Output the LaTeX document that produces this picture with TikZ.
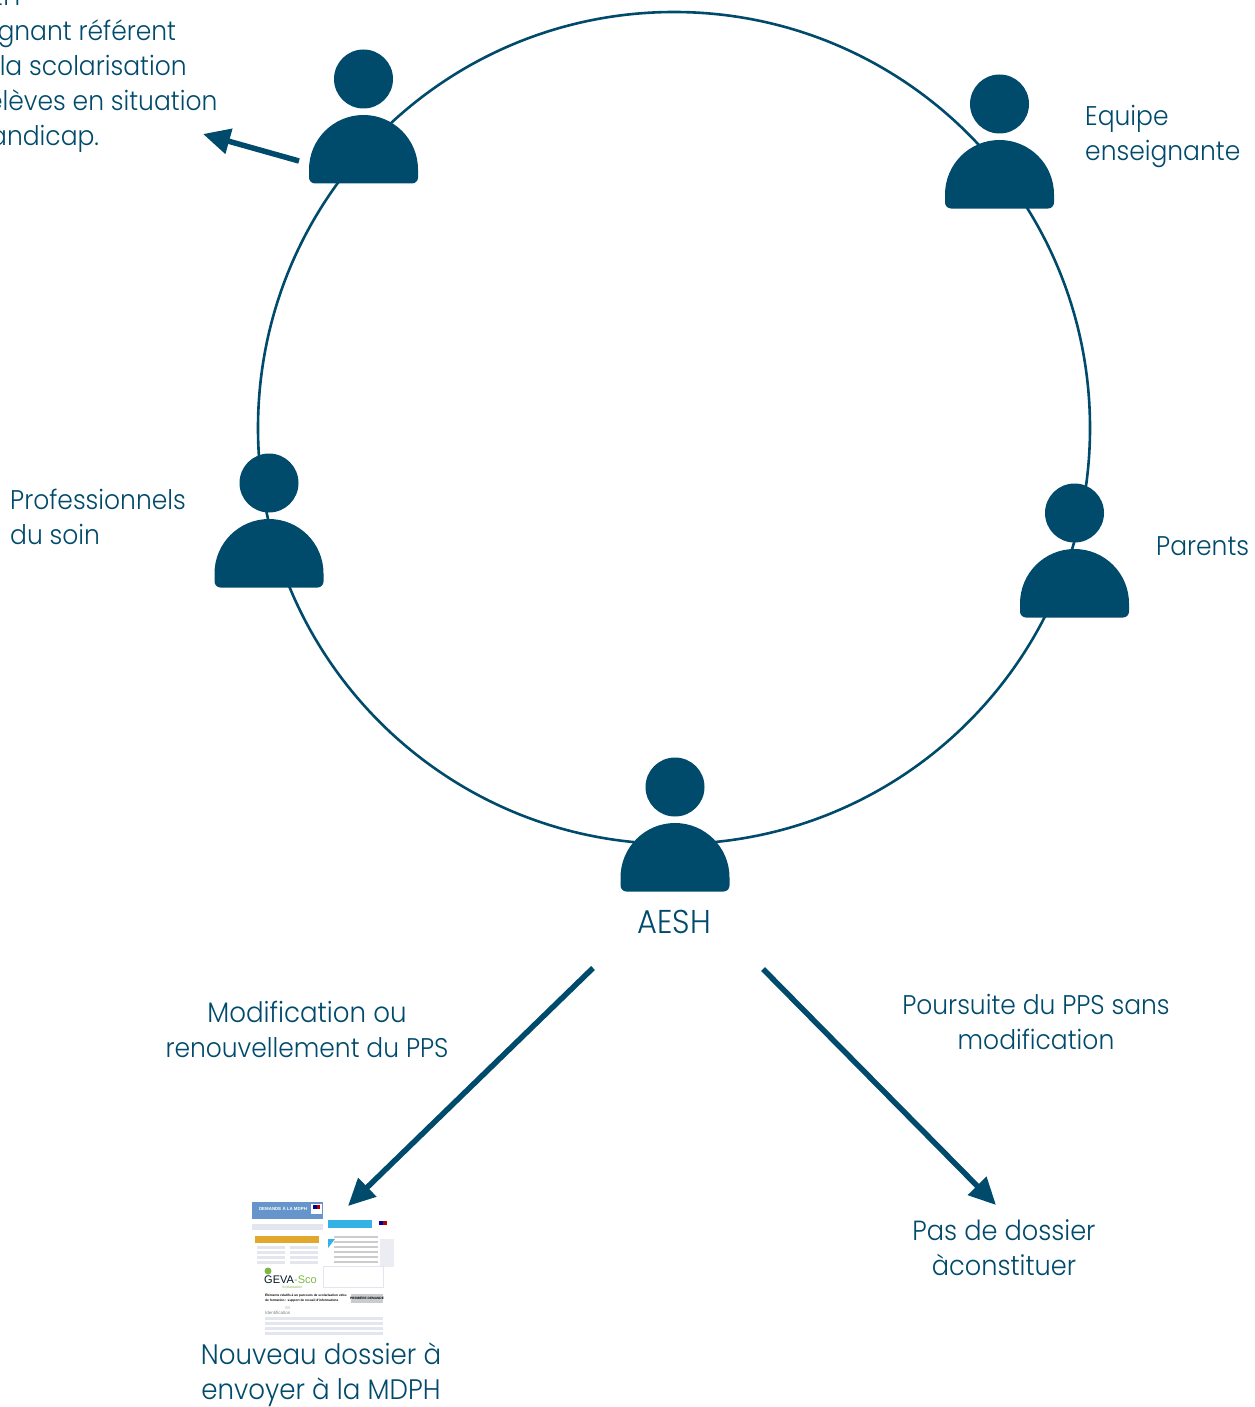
\documentclass[tikz,border=0pt]{standalone}
\usepackage{fontspec}
\setmainfont{Poppins Light}[FakeStretch=0.925]
\newfontfamily\docfont{Liberation Sans}
\usetikzlibrary{arrows.meta}
\definecolor{ink}{HTML}{004A6B}
\definecolor{docblue}{HTML}{6595CB}
\definecolor{docgrey}{HTML}{E3E6EE}
\definecolor{docgold}{HTML}{E0A92E}
\definecolor{doccyan}{HTML}{35B2E5}
\definecolor{docgreen}{HTML}{7DB845}
\definecolor{docbox}{HTML}{C9CBCC}
\tikzset{
  lbl/.style={text=ink,font=\fontsize{27}{35}\selectfont,inner sep=0pt},
  lblbig/.style={lbl,font=\fontsize{28.2}{35}\selectfont},
  ring/.style={draw=ink,line width=2.6pt},
  bigarrow/.style={draw=ink,line width=5.5pt,-{Triangle[length=27pt,width=25pt]}},
  tiny/.style={inner sep=0pt,font=\docfont\fontsize{3}{3.6}\selectfont},
  person/.pic={
    \fill[ink] (0,0) circle (29.5);
    \fill[ink] (-48.5,104.5) -- (48.5,104.5) arc[start angle=90,end angle=0,radius=6] -- (54.5,90.5)
       arc[start angle=0,end angle=-180,radius=54.5] -- (-54.5,98.5) arc[start angle=180,end angle=90,radius=6] -- cycle;
  }
}
\begin{document}
\begin{tikzpicture}[x=1pt,y=-1pt]
\useasboundingbox (0,0) rectangle (1254,1407);
\node[ring,circle,minimum size=832pt,inner sep=0pt] (cercle) at (674,428) {};
\pic (p1) at (363.5,79) {person};
\pic (p2) at (999.5,104) {person};
\pic (p3) at (269,483) {person};
\pic (p4) at (1074.5,513) {person};
\pic (p5) at (675,787) {person};

\node[lbl,anchor=west,align=left] (referent) at (-65,69) {\hspace*{14pt}ERSEH\\Enseignant référent\\pour la scolarisation\\des élèves en situation\\de handicap.};
\node[lbl,anchor=west,align=left] (equipe) at (1085,136) {Equipe\\enseignante};
\node[lbl,anchor=west,align=left] (soin) at (10,517) {Professionnels\\du soin};
\node[lbl,anchor=west] (parents) at (1156,546) {Parents};
\node[lbl,font=\fontsize{33}{35}\selectfont] (aesh) at (674,922) {AESH};
\node[lbl,align=center] (modif) at (307,1029) {{\fontsize{28.2}{35}\selectfont Modification ou}\\renouvellement du PPS};
\node[lbl,align=center] (poursuite) at (1036,1022) {Poursuite du PPS sans\\modification};
\node[lbl,font=\fontsize{27.7}{35}\selectfont,align=center] (pas) at (1004,1248) {Pas de dossier\\àconstituer};
\node[lblbig,align=center] (nouveau) at (321,1375) {Nouveau dossier à\\envoyer à la MDPH};

\coordinate (a1s) at (299,161); \coordinate (a1e) at (203,134);
\coordinate (a2s) at (593,968); \coordinate (a2e) at (348,1206);
\coordinate (a3s) at (763,969); \coordinate (a3e) at (996,1205);
\draw[bigarrow] (a1s) -- (a1e);
\draw[bigarrow] (a2s) -- (a2e);
\draw[bigarrow] (a3s) -- (a3e);

% document 1
\fill[docgrey] (252,1224) rectangle (323,1230);
\fill[docblue] (252,1202) rectangle (323,1219);
\node[tiny,text=white,font=\docfont\bfseries\fontsize{4.4}{6}\selectfont] (d1) at (283,1208.5) {DEMANDE À LA MDPH};
\fill[white] (311,1204) rectangle (322,1214);
\fill[blue!60!black] (313,1205) rectangle (316.5,1209);
\fill[red!70!black] (316.5,1205) rectangle (320,1209);
\fill[docgold] (255,1236) rectangle (319,1243);
\foreach \yy in {1246,1251,1256,1261}{
  \fill[docgrey] (257,\yy) rectangle (285,\yy+3);
  \fill[docgrey] (290,\yy) rectangle (318,\yy+3);
}
% document 2
\fill[docgrey!70] (380,1239) rectangle (394,1267);
\fill[doccyan] (328,1220) rectangle (372,1228);
\foreach \yy in {1236,1241,1246,1251,1256,1261}{
  \fill[gray!40] (334,\yy) rectangle (378,\yy+1.5);
}
\fill[doccyan] (328,1239) -- (335,1239) -- (328,1248) -- cycle;
\fill[blue!60!black] (379,1221) rectangle (383,1225);
\fill[red!70!black] (383,1221) rectangle (387,1225);
% document 3
\draw[docgrey,line width=.6pt] (323,1266) rectangle (383,1287);
\fill[docgreen] (268,1271) circle (3.5);
\node[tiny,text=ink!30!black,font=\docfont\fontsize{11}{12}\selectfont,anchor=west] (geva) at (264,1280) {GEVA};
\node[tiny,text=docgreen,font=\docfont\fontsize{11}{12}\selectfont,anchor=west] (sco) at (294,1280) {-Sco};
\node[tiny,text=docgreen,font=\docfont\fontsize{3.5}{4}\selectfont,anchor=west] (scol) at (282,1287) {Scolarisation};
\node[tiny,text=black,font=\docfont\bfseries\fontsize{3.2}{4.4}\selectfont,anchor=west,align=left] (elem) at (265,1298) {Éléments relatifs à un parcours de scolarisation et/ou\\de formation : support de recueil d'informations};
\fill[docbox] (351,1294) rectangle (383,1303);
\node[tiny,font=\docfont\bfseries\fontsize{3.2}{4}\selectfont] (prem) at (367,1298.5) {PREMIÈRE DEMANDE};
\foreach \yy in {1317,1322,1327,1332}{
  \fill[docgrey] (265,\yy) rectangle (383,\yy+2.5);
}
\fill[docgrey] (285,1306) rectangle (290,1309);
\node[tiny,text=gray,font=\docfont\fontsize{4.5}{5}\selectfont,anchor=west] (ident) at (265,1313) {Identification};
\end{tikzpicture}
\end{document}
